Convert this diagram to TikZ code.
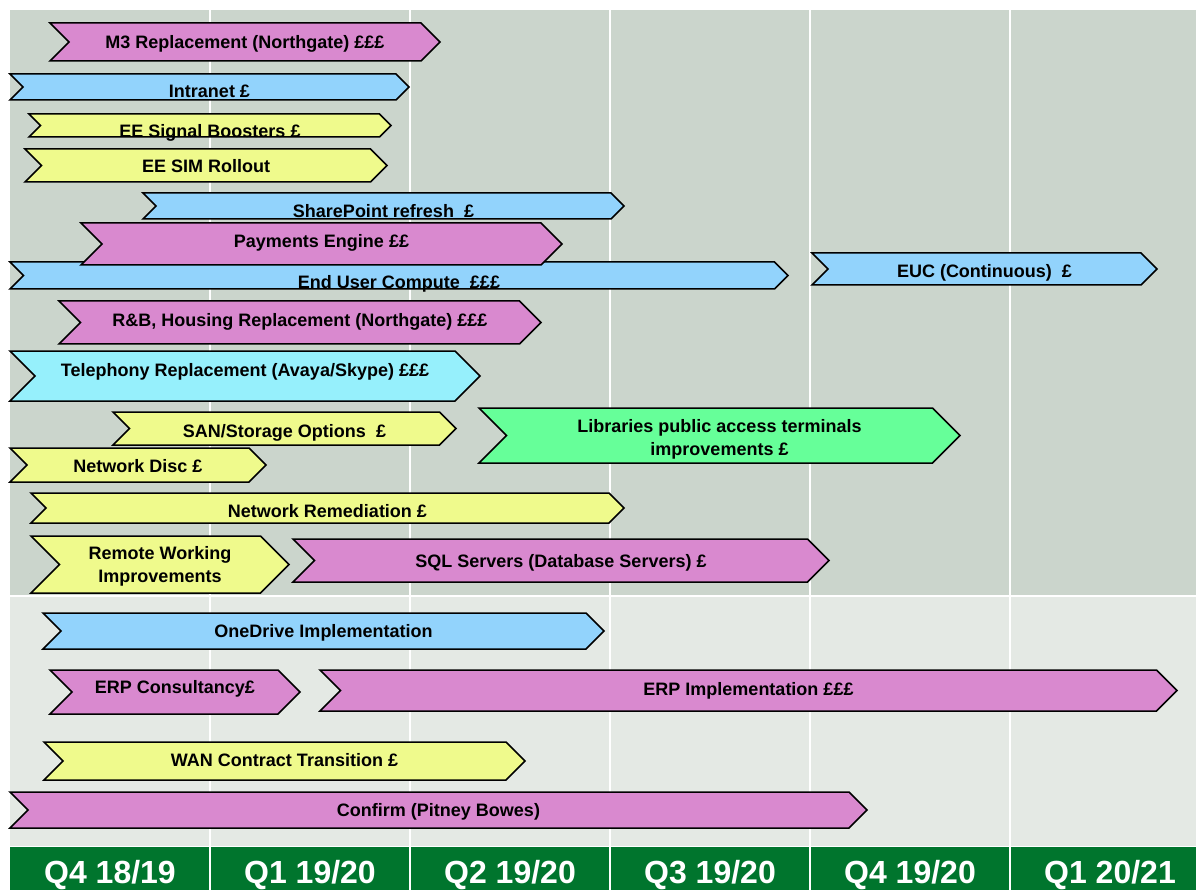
\documentclass[tikz,border=0pt]{standalone}
\usepackage{fontspec}
\setmainfont{Liberation Sans}
\usepackage{tikz}
\definecolor{barpink}{RGB}{217,137,207}
\definecolor{barblue}{RGB}{146,211,252}
\definecolor{baryellow}{RGB}{239,250,140}
\definecolor{barcyan}{RGB}{150,240,252}
\definecolor{bargreen}{RGB}{102,255,153}
\definecolor{bgupper}{RGB}{203,213,204}
\definecolor{bglower}{RGB}{228,233,228}
\definecolor{footgreen}{RGB}{0,117,45}
\tikzset{
    bar/.style={draw=black, line width=1.5pt, line join=miter},
    lbl/.style={anchor=base, inner sep=0pt, align=center, font=\bfseries\fontsize{18}{22.5}\selectfont},
    qlbl/.style={anchor=base, inner sep=0pt, text=white, font=\bfseries\fontsize{32}{36}\selectfont},
    grid/.style={white, line width=2pt}
}
% name, left, tip, top, bottom, colour, cap-centre of (last) label line, label
\newcommand{\taskbar}[8]{%
    \draw[bar, fill=#6] (#2,#4) -- ({#3-(#5-#4)/2},#4) -- (#3,{(#4+#5)/2})
        -- ({#3-(#5-#4)/2},#5) -- (#2,#5) -- ({#2+(#5-#4)/2},{(#4+#5)/2}) -- cycle;
    \node[lbl] (#1) at ({(#2+#3)/2},{#7+6.45}) {#8};
}

\begin{document}
\begin{tikzpicture}[x=1pt, y=-1pt]
    \useasboundingbox (0,0) rectangle (1196,890);
    % background panels
    \fill[white] (0,0) rectangle (1196,890);
    \fill[bgupper] (10,10) rectangle (1196,594.5);
    \fill[bglower] (10,596.5) rectangle (1196,845.5);
    \fill[footgreen] (10,847) rectangle (1196,890);
    \foreach \x in {210,410,610,810,1010}
        \draw[grid] (\x,10) -- (\x,890);

    % quarters
    \node[qlbl] (q1) at (110,883) {Q4 18/19};
    \node[qlbl] (q2) at (310,883) {Q1 19/20};
    \node[qlbl] (q3) at (510,883) {Q2 19/20};
    \node[qlbl] (q4) at (710,883) {Q3 19/20};
    \node[qlbl] (q5) at (910,883) {Q4 19/20};
    \node[qlbl] (q6) at (1110,883) {Q1 20/21};

    % projects
    \taskbar{m3}{50}{440}{23}{61}{barpink}{41.7}{M3 Replacement (Northgate) £££}
    \taskbar{intranet}{10}{409}{74}{100}{barblue}{91}{Intranet £}
    \taskbar{boosters}{29}{391}{114}{137}{baryellow}{131}{EE Signal Boosters £}
    \taskbar{sim}{25}{387}{149}{182}{baryellow}{166.5}{EE SIM Rollout}
    \taskbar{sharepoint}{143}{624}{193}{219}{barblue}{211}{SharePoint refresh\ \ £}
    \taskbar{euc}{10}{788}{262}{289}{barblue}{282}{End User Compute\ \ £££}
    \taskbar{payments}{81}{562}{223}{265}{barpink}{241}{Payments Engine ££}
    \taskbar{euccont}{812}{1157}{253}{285}{barblue}{271}{EUC (Continuous)\ \ £}
    \taskbar{housing}{59}{541}{301}{344}{barpink}{320}{R\&B, Housing Replacement (Northgate) £££}
    \taskbar{telephony}{10}{480}{351}{401}{barcyan}{370}{Telephony Replacement (Avaya/Skype) £££}
    \taskbar{san}{113}{456}{412}{445}{baryellow}{431}{SAN/Storage Options\ \ £}
    \taskbar{libraries}{479}{960}{408}{463}{bargreen}{449}{Libraries public access terminals\\improvements £}
    \taskbar{disc}{10}{266}{448}{482}{baryellow}{466}{Network Disc £}
    \taskbar{remediation}{31}{624}{493}{523}{baryellow}{511}{Network Remediation £}
    \taskbar{remote}{31}{289}{536}{593}{baryellow}{576}{Remote Working\\Improvements}
    \taskbar{sql}{293}{829}{539}{582}{barpink}{561}{SQL Servers (Database Servers) £}
    \taskbar{onedrive}{43}{604}{613}{649}{barblue}{631}{OneDrive Implementation}
    \taskbar{erpcons}{50}{300}{670}{714}{barpink}{687}{ERP Consultancy£}
    \taskbar{erpimpl}{320}{1177}{670}{711}{barpink}{689}{ERP Implementation £££}
    \taskbar{wan}{44}{525}{742}{780}{baryellow}{760}{WAN Contract Transition £}
    \taskbar{confirm}{10}{867}{792}{828}{barpink}{810}{Confirm (Pitney Bowes)}
\end{tikzpicture}
\end{document}
